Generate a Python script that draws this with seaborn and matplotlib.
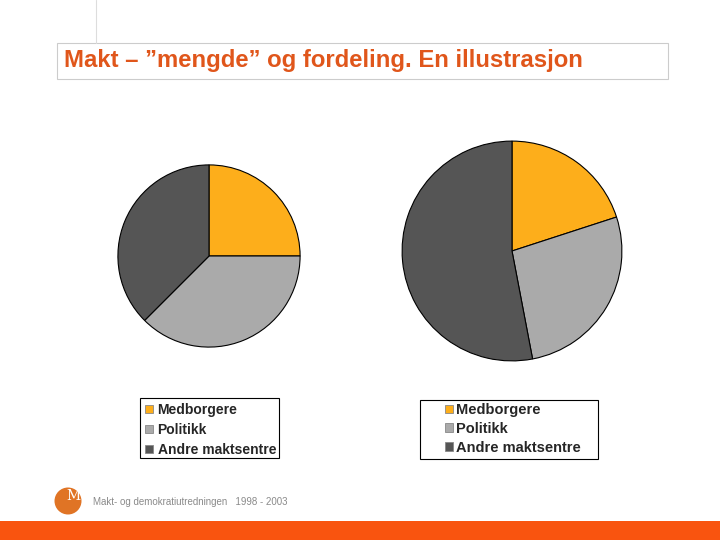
import matplotlib
matplotlib.use('Agg')
import matplotlib.pyplot as plt
import seaborn as sns
from matplotlib.patches import Rectangle, Ellipse
from matplotlib.lines import Line2D

# data (percent of power)
categories = ['Medborgere', 'Politikk', 'Andre maktsentre']
left_values = [25, 37.5, 37.5]
right_values = [20, 27, 53]
title_text = 'Makt \u2013 \u201dmengde\u201d og fordeling. En illustrasjon'
footer_text = 'Makt- og demokratiutredningen   1998 - 2003'

sns.set_theme(style='white')
plt.rcParams['font.family'] = ['Liberation Sans', 'DejaVu Sans']

colors = ['#FDAE1B', '#AAAAAA', '#555555']
W, H = 720, 540

fig = plt.figure(figsize=(7.2, 5.4), dpi=100)
fig.patch.set_facecolor('white')


def px_axes(cx, cy, r):
    # axes placed by pixel centre/radius (y from top)
    return fig.add_axes([(cx - r) / W, (H - cy - r) / H, 2 * r / W, 2 * r / H])


def draw_pie(ax, values):
    ax.pie(values, colors=colors, startangle=90, counterclock=False,
           wedgeprops=dict(edgecolor='black', linewidth=0.8))
    ax.set_xlim(-1.01, 1.01)
    ax.set_ylim(-1.01, 1.01)
    ax.set_aspect('equal')
    ax.axis('off')


ax_left = px_axes(209, 256, 92)
draw_pie(ax_left, left_values)
ax_right = px_axes(512, 251, 111)
draw_pie(ax_right, right_values)

# title box
fig.patches.append(Rectangle((57 / W, 1 - 79 / H), (668 - 57) / W, 36 / H,
                             transform=fig.transFigure, facecolor='white',
                             edgecolor='#CCCCCC', linewidth=0.8))
fig.text(64 / W, 1 - 61 / H, title_text, color='#E0561B', fontsize=17.2,
         fontweight='bold', va='center', ha='left')
fig.lines.append(Line2D([96 / W, 96 / W], [1, 1 - 43 / H], transform=fig.transFigure,
                        color='#DDDDDD', linewidth=0.8))


def legend_box(x0, y0, x1, y1, text_x, top, fs, spacing, hlen, hpad):
    fig.patches.append(Rectangle((x0 / W, 1 - y1 / H), (x1 - x0) / W, (y1 - y0) / H,
                                 transform=fig.transFigure, facecolor='white',
                                 edgecolor='black', linewidth=0.8))
    handles = [Rectangle((0, 0), 1, 1, facecolor=c, edgecolor='#888888', linewidth=0.6)
               for c in colors]
    leg = fig.legend(handles, categories, loc='upper left',
                     bbox_to_anchor=(text_x / W, 1 - top / H),
                     frameon=False, handlelength=hlen, handleheight=0.5,
                     handletextpad=hpad, labelspacing=spacing, borderpad=0,
                     borderaxespad=0, prop=dict(size=fs, weight='bold'))
    return leg


legend_box(140, 398, 279, 458, 145, 403, 10, 0.42, 0.6, 0.3)
legend_box(420, 400, 598, 459, 445, 403, 10.5, 0.33, 0.55, 0.2)

# footer logo and bar
fig.patches.append(Ellipse((68 / W, 1 - 501 / H), 27 / W, 27 / H,
                           transform=fig.transFigure, facecolor='#E07425', edgecolor='none'))
fig.text(73 / W, 1 - 496 / H, 'M', color='white', fontsize=10, family='DejaVu Serif',
         ha='center', va='center')
fig.text(93 / W, 1 - 502 / H, footer_text, color='#8A8A8A', fontsize=7,
         ha='left', va='center')
fig.patches.append(Rectangle((0, 0), 1, 19 / H, transform=fig.transFigure,
                             facecolor='#F9540F', edgecolor='none'))

fig.savefig('out.png', dpi=100)
